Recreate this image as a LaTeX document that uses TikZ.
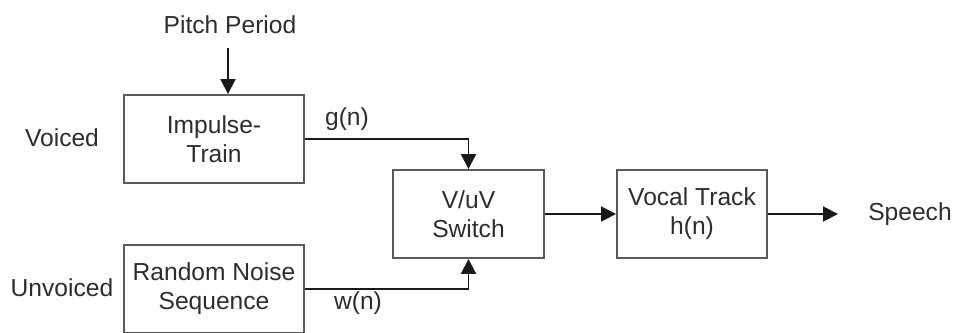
\documentclass[tikz,border=0pt]{standalone}
\usepackage{fontspec}
\setmainfont{Liberation Sans}
\usetikzlibrary{arrows.meta, positioning, calc}
\definecolor{boxgray}{RGB}{90,90,90}
\definecolor{linegray}{RGB}{25,25,25}
\definecolor{textgray}{RGB}{45,45,45}

\begin{document}
\begin{tikzpicture}[
    x=0.02cm, y=-0.02cm,
    block/.style={draw=boxgray, line width=1.1pt, minimum height=1.76cm,
                  align=center, inner sep=2pt, text=textgray,
                  font=\fontsize{14}{16.5}\selectfont},
    lbl/.style={text=textgray, font=\fontsize{14}{16.5}\selectfont},
    arr/.style={-{Triangle[length=8.5pt,width=8.5pt]}, line width=1.1pt, linegray}
]
\useasboundingbox (0,0) rectangle (957,332);
\clip (0,0) rectangle (957,332);
% blocchi
\node[block, minimum width=3.6cm] (imp)   at (214,139) {Impulse-\\Train};
\node[block, minimum width=3.6cm] (noise) at (214,289) {Random Noise\\Sequence};
\node[block, minimum width=3.02cm] (sw)   at (468.5,214) {V/uV\\Switch};
\node[block, minimum width=3.0cm] (vt)    at (692,214) {Vocal Track\\h(n)};
% etichette
\node[lbl] (pitch)    at (230,25)  {Pitch Period};
\node[lbl] (voiced)   at (62,138)  {Voiced};
\node[lbl] (unvoiced) at (62,288)  {Unvoiced};
\node[lbl] (speech)   at (910,214) {Speech};
\node[lbl] (gn)       at (347,119) {g(n)};
\node[lbl] (wn)       at (358,303) {w(n)};
% collegamenti
\coordinate (ptip) at ([xshift=0.28cm]imp.north);
\coordinate (out)  at (838,214);
\draw[arr, shorten <=0.16cm] (pitch.south -| ptip) -- (ptip);
\draw[arr] (imp.east) -| (sw.north);
\draw[arr] (noise.east) -| (sw.south);
\draw[arr] (sw) -- (vt);
\draw[arr] (vt) -- (out);
\end{tikzpicture}
\end{document}
